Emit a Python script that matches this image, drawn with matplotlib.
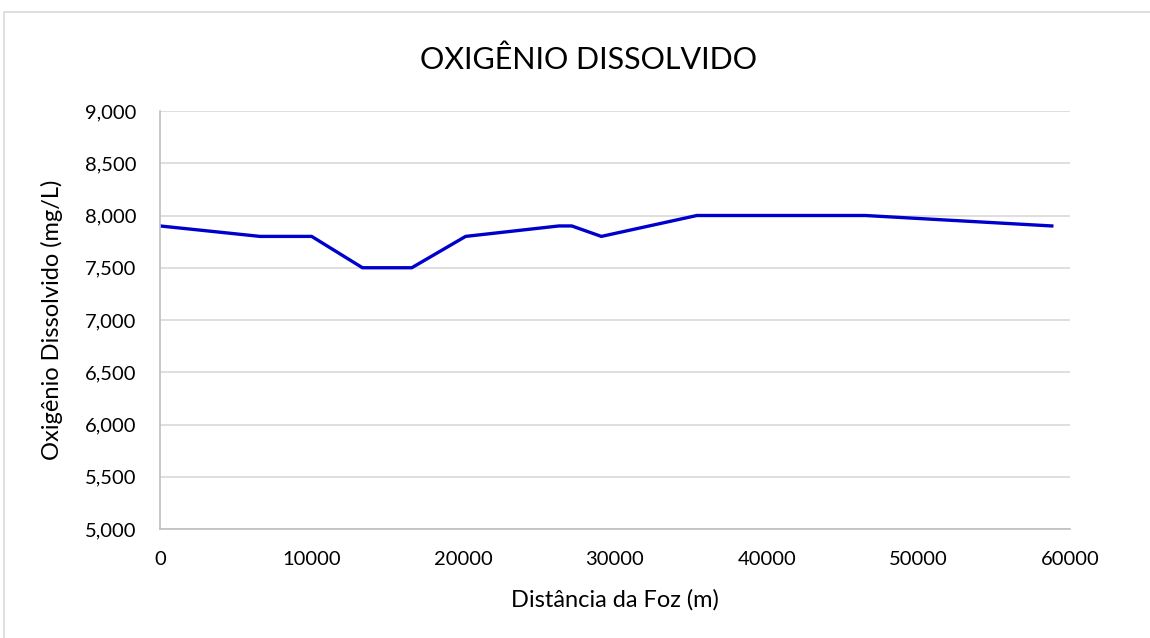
import matplotlib.pyplot as plt
from matplotlib.patches import Rectangle
from matplotlib.ticker import FuncFormatter

# Data
distancia = [0, 6600, 10000, 13350, 16600, 20150, 26300, 27150, 29100, 35400, 46500, 58800]
oxigenio = [7.9, 7.8, 7.8, 7.5, 7.5, 7.8, 7.9, 7.9, 7.8, 8.0, 8.0, 7.9]

TITLE = "OXIGÊNIO DISSOLVIDO"
X_LABEL = "Distância da Foz (m)"
Y_LABEL = "Oxigênio Dissolvido (mg/L)"

plt.rcParams['font.family'] = ['Lato', 'DejaVu Sans']

fig = plt.figure(figsize=(11.5, 6.38), dpi=100)
ax = fig.add_axes([160 / 1150, 1 - 529 / 638, 910 / 1150, 418 / 638])

# chart border (only left/top edges visible in the reference)
fig.patches.append(Rectangle((4 / 1150, -0.1), 1.2, 1 - 12 / 638 + 0.1,
                             transform=fig.transFigure, fill=False,
                             edgecolor="#d9d9d9", linewidth=1.2))

ax.plot(distancia, oxigenio, color="#0000cc", linewidth=2.4, solid_joinstyle="round")

ax.set_xlim(0, 60000)
ax.set_ylim(5, 9)
ax.set_xticks(range(0, 60001, 10000))
ax.set_yticks([5 + 0.5 * i for i in range(9)])
ax.yaxis.set_major_formatter(FuncFormatter(lambda v, p: f"{v:.3f}".replace(".", ",")))

ax.grid(axis="y", color="#d9d9d9", linewidth=1.2)
ax.set_axisbelow(True)
for s in ["top", "right"]:
    ax.spines[s].set_visible(False)
for s in ["left", "bottom"]:
    ax.spines[s].set_color("#bfbfbf")
    ax.spines[s].set_linewidth(1.2)
ax.tick_params(length=0, labelsize=14.5, colors="#000000")
ax.tick_params(axis="y", pad=17)
ax.tick_params(axis="x", pad=16)

ax.set_xlabel(X_LABEL, fontsize=17, va="center")
ax.xaxis.set_label_coords(0.5, (529 - 600) / 418)
ax.set_ylabel(Y_LABEL, fontsize=17, va="center")
ax.yaxis.set_label_coords((52 - 160) / 910, 0.5)
fig.text(588 / 1150, 1 - 60 / 638, TITLE, fontsize=22,
         ha="center", va="center")

fig.savefig("out.png", dpi=100)
